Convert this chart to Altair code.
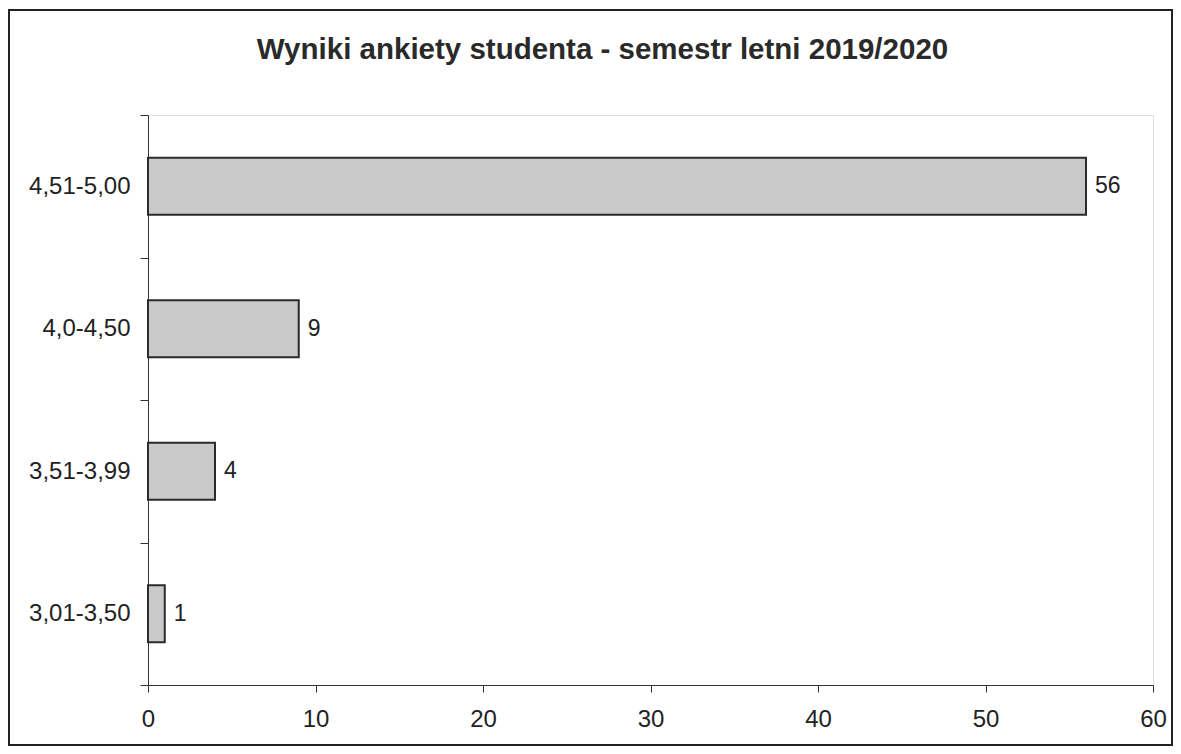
import altair as alt
import pandas as pd

categories = ["4,51-5,00", "4,0-4,50", "3,51-3,99", "3,01-3,50"]
values = [56, 9, 4, 1]
x_ticks = [0, 10, 20, 30, 40, 50, 60]
title_text = "Wyniki ankiety studenta - semestr letni 2019/2020"

df = pd.DataFrame({"cat": categories, "val": values})

W, H = 1005, 570
PAD = {"left": 140, "top": 107, "right": 20, "bottom": 61}
FONT = "Liberation Sans"

y_enc = alt.Y(
    "cat:N",
    sort=categories,
    title=None,
    scale=alt.Scale(paddingInner=0, paddingOuter=0),
    axis=alt.Axis(
        tickBand="extent",
        labelFontSize=24,
        labelFont=FONT,
        labelColor="#222222",
        labelPadding=10,
        tickSize=8,
        tickColor="#333333",
        domainColor="#333333",
        labelLimit=300,
    ),
)
x_enc = alt.X(
    "val:Q",
    title=None,
    scale=alt.Scale(domain=[0, 60], nice=False),
    axis=alt.Axis(
        values=x_ticks,
        grid=False,
        labelFlush=False,
        labelFontSize=24,
        labelFont=FONT,
        labelColor="#222222",
        labelPadding=15,
        tickSize=7,
        tickColor="#333333",
        domainColor="#333333",
    ),
)

bars = alt.Chart(df).mark_bar(
    height={"band": 0.4},
    fill="#c9c9c9",
    stroke="#2b2b2b",
    strokeWidth=2,
).encode(x=x_enc, y=y_enc)

labels = alt.Chart(df).mark_text(
    align="left", baseline="middle", dx=9, fontSize=23, font=FONT, color="#222222"
).encode(x="val:Q", y=alt.Y("cat:N", sort=categories), text="val:Q")

frame = alt.Chart(df).mark_rect(
    fill="transparent", stroke="#222222", strokeWidth=2, clip=False
).encode(
    x=alt.value(-PAD["left"] + 1), x2=alt.value(W + PAD["right"] - 1),
    y=alt.value(-PAD["top"] + 2), y2=alt.value(H + PAD["bottom"] - 1),
)

chart = alt.layer(frame, bars, labels).properties(
    width=W,
    height=H,
    padding=PAD,
    autosize=alt.AutoSizeParams(type="none"),
    title=alt.TitleParams(
        text=title_text,
        fontSize=29.5,
        font=FONT,
        fontWeight="bold",
        color="#2a2a2a",
        anchor="middle",
        dx=-48,
        dy=56,
        offset=0,
    ),
).configure_view(strokeWidth=0).configure(background="white")

chart.save("out.html", embed_options={"renderer": "svg", "actions": False})
